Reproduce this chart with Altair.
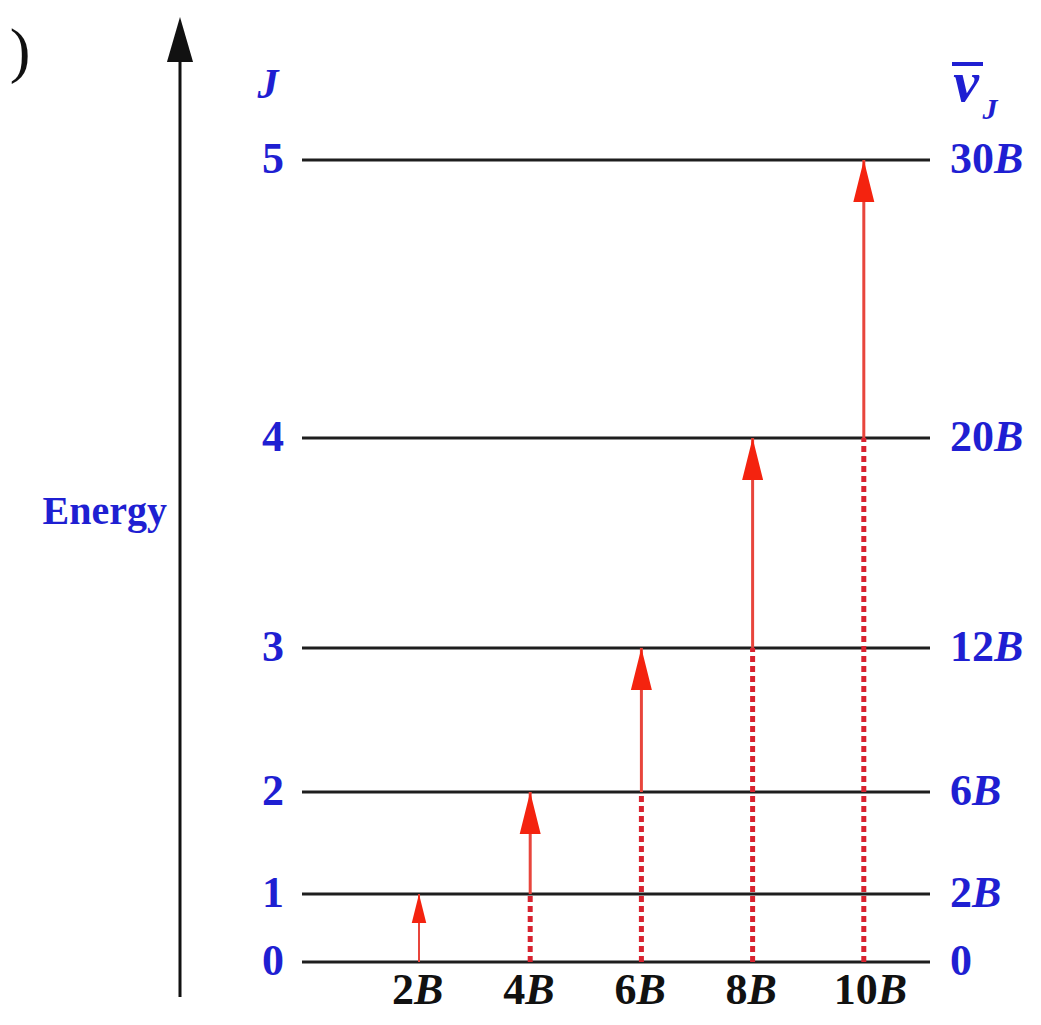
import altair as alt
import pandas as pd

# ---------------- data ----------------
J_levels = [0, 1, 2, 3, 4, 5]
# drawn heights of the rotational levels, in units of B
level_height = [0, 2.54, 6.36, 11.75, 19.6, 30]
level_num = ["0", "2", "6", "12", "20", "30"]
level_unit = ["", "B", "B", "B", "B", "B"]

trans_lower_J = [0, 1, 2, 3, 4]
trans_wavenumber = [2, 4, 6, 8, 10]
trans_num = ["2", "4", "6", "8", "10"]
trans_unit = ["B", "B", "B", "B", "B"]

BLUE = "#1f1fd2"
SERIF = "Liberation Serif"

levels = pd.DataFrame({
    "J": J_levels,
    "jlab": [str(j) for j in J_levels],
    "E": level_height,
    "num": level_num,
    "unit": level_unit,
})
trans = pd.DataFrame({
    "Jl": trans_lower_J,
    "nu": trans_wavenumber,
    "num": trans_num,
    "unit": trans_unit,
    "base": [level_height[0]] * len(trans_lower_J),
    "lo": [level_height[j] for j in trans_lower_J],
    "hi": [level_height[j + 1] for j in trans_lower_J],
})
one = pd.DataFrame({"k": [0]})

xs = alt.Scale(domain=[-5.392, 13.025], nice=False, zero=False)
ys = alt.Scale(domain=[-2.02, 35.69], nice=False, zero=False)
X = alt.X("nu:Q", scale=xs, axis=None)


def Y(f):
    return alt.Y(f"{f}:Q", scale=ys, axis=None)


def tri(hw):
    return f"M0,0L{hw},2L{-hw},2Z"


# energy axis (decorative arrow)
axis_line = alt.Chart(one).mark_rule(color="#111111", strokeWidth=3).encode(
    x=alt.value(172), y=alt.value(34), y2=alt.value(989)
)
axis_head = alt.Chart(one).mark_point(
    shape=tri(0.58), filled=True, color="#111111", opacity=1, strokeWidth=0, size=2025
).encode(x=alt.value(172), y=alt.value(9))
energy_lbl = alt.Chart(one).mark_text(
    text="Energy", font=SERIF, fontWeight="bold", fontSize=40, color=BLUE,
    align="right", baseline="middle"
).encode(x=alt.value(159), y=alt.value(504))
paren = alt.Chart(one).mark_text(
    text=")", font=SERIF, fontSize=62, color="#111111", align="center", baseline="middle"
).encode(x=alt.value(12), y=alt.value(44))

# levels
level_lines = alt.Chart(levels).mark_rule(color="#1e1e1e", strokeWidth=3).encode(
    y=Y("E"), x=alt.value(294), x2=alt.value(922)
)
j_labels = alt.Chart(levels).mark_text(
    font=SERIF, fontWeight="bold", fontSize=44, color=BLUE, align="right", baseline="middle"
).encode(y=Y("E"), x=alt.value(276), text="jlab:N")
j_head = alt.Chart(one).mark_text(
    text="J", font=SERIF, fontWeight="bold", fontStyle="italic", fontSize=42, color=BLUE,
    align="center", baseline="middle"
).encode(x=alt.value(260), y=alt.value(77))

r_num = alt.Chart(levels).mark_text(
    font=SERIF, fontWeight="bold", fontSize=44, color=BLUE, align="left", baseline="middle"
).encode(y=Y("E"), x=alt.value(942), text="num:N")
r_unit = alt.Chart(levels).transform_filter("datum.unit != ''").transform_calculate(
    xb="942 + 22*length(datum.num)"
).mark_text(
    font=SERIF, fontWeight="bold", fontStyle="italic", fontSize=44, color=BLUE,
    align="left", baseline="middle"
).encode(y=Y("E"), x=alt.X("xb:Q", scale=None, axis=None), text="unit:N")

# wavenumber header: nu with an overbar and subscript J
nu_head = alt.Chart(one).mark_text(
    text="\u03bd", font=SERIF, fontWeight="bold", fontStyle="italic", fontSize=58,
    color=BLUE, align="center", baseline="middle"
).encode(x=alt.value(958), y=alt.value(76))
nu_bar = alt.Chart(one).mark_rule(color=BLUE, strokeWidth=4).encode(
    x=alt.value(944), x2=alt.value(975), y=alt.value(56)
)
nu_sub = alt.Chart(one).mark_text(
    text="J", font=SERIF, fontWeight="bold", fontStyle="italic", fontSize=30,
    color=BLUE, align="center", baseline="middle"
).encode(x=alt.value(982), y=alt.value(102))

# transitions
dotted = alt.Chart(trans).transform_filter("datum.Jl > 0").mark_rule(
    color="#d8232f", strokeWidth=5, strokeDash=[6, 4]
).encode(x=X, y=Y("base"), y2=alt.Y2("lo:Q"))
shaft = alt.Chart(trans).mark_rule(color="#e8453c").encode(
    x=X, y=Y("lo"), y2=alt.Y2("hi:Q"),
    strokeWidth=alt.condition("datum.Jl == 0", alt.value(2), alt.value(3)),
)
heads = alt.Chart(trans).mark_point(
    shape=tri(0.5), filled=True, color="#f4230f", opacity=1, strokeWidth=0
).encode(
    x=X, y=Y("hi"),
    size=alt.condition("datum.Jl == 0", alt.value(841), alt.value(1764)),
)

BY = 983
BFS = 44
b_num1 = alt.Chart(trans).transform_filter("length(datum.num) == 1").mark_text(
    font=SERIF, fontWeight="bold", fontSize=BFS, color="#111111",
    align="right", baseline="middle", dx=-5
).encode(x=X, y=alt.value(BY), text="num:N")
b_unit1 = alt.Chart(trans).transform_filter("length(datum.num) == 1").mark_text(
    font=SERIF, fontWeight="bold", fontStyle="italic", fontSize=BFS, color="#111111",
    align="left", baseline="middle", dx=-5
).encode(x=X, y=alt.value(BY), text="unit:N")
b_num2 = alt.Chart(trans).transform_filter("length(datum.num) == 2").mark_text(
    font=SERIF, fontWeight="bold", fontSize=BFS, color="#111111",
    align="right", baseline="middle", dx=14
).encode(x=X, y=alt.value(BY), text="num:N")
b_unit2 = alt.Chart(trans).transform_filter("length(datum.num) == 2").mark_text(
    font=SERIF, fontWeight="bold", fontStyle="italic", fontSize=BFS, color="#111111",
    align="left", baseline="middle", dx=14
).encode(x=X, y=alt.value(BY), text="unit:N")

chart = alt.layer(
    axis_line, axis_head, energy_lbl, paren,
    level_lines, dotted, shaft, heads,
    j_labels, j_head, r_num, r_unit, nu_head, nu_bar, nu_sub,
    b_num1, b_unit1, b_num2, b_unit2,
).properties(
    width=1024, height=1008,
    autosize=alt.AutoSizeParams(type="none"),
    padding=0,
    background="white",
).configure_view(stroke=None)

chart.save("out.html", embed_options={"renderer": "svg", "actions": False})
